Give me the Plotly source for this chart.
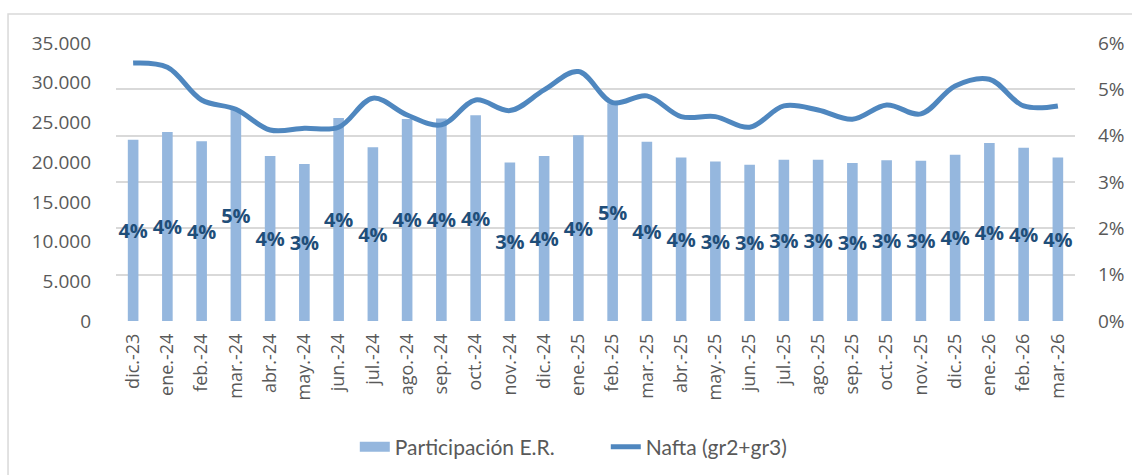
import plotly.graph_objects as go

# ------------------------------------------------------------
# Data
# ------------------------------------------------------------

meses = [
    "dic.-23", "ene.-24", "feb.-24", "mar.-24", "abr.-24", "may.-24",
    "jun.-24", "jul.-24", "ago.-24", "sep.-24", "oct.-24", "nov.-24",
    "dic.-24", "ene.-25", "feb.-25", "mar.-25", "abr.-25", "may.-25",
    "jun.-25", "jul.-25", "ago.-25", "sep.-25", "oct.-25", "nov.-25",
    "dic.-25", "ene.-26", "feb.-26", "mar.-26",
]

participacion_er = [
    0.0391, 0.0408, 0.0388, 0.0456, 0.0356, 0.0339,
    0.0438, 0.0375, 0.0436, 0.0437, 0.0444, 0.0342,
    0.0356, 0.0401, 0.0470, 0.0387, 0.0353, 0.0344,
    0.0337, 0.0348, 0.0348, 0.0341, 0.0347, 0.0346,
    0.0359, 0.0384, 0.0374, 0.0353,
]

nafta = [
    32470, 31950, 27830, 26660, 24050, 24270,
    24390, 28050, 25940, 24690, 27830, 26490,
    29090, 31400, 27490, 28340, 25730, 25730,
    24390, 27080, 26570, 25400, 27200, 26070,
    29600, 30440, 27080, 27080,
]

# ------------------------------------------------------------
# Figure
# ------------------------------------------------------------

GRID = "#D9D9D9"
TXT = "#595959"
BAR = "#95B7DE"
LINE = "#4F87BF"

fig = go.Figure()

fig.add_trace(go.Bar(
    x=meses,
    y=participacion_er,
    name="Participación E.R.",
    showlegend=False,
    marker=dict(color=BAR, line=dict(width=0)),
    width=0.31,
    texttemplate="%{y:.0%}",
    textposition="inside",
    insidetextanchor="middle",
    textangle=0,
    constraintext="none",
    textfont=dict(family="Open Sans", size=20, color="#1F4E79", weight="bold"),
    yaxis="y",
))

# legend entry for the bars (wide block like the original)
fig.add_trace(go.Scatter(
    x=[None],
    y=[None],
    name="Participación E.R.",
    mode="lines",
    line=dict(color=BAR, width=14),
    yaxis="y",
))

fig.add_trace(go.Scatter(
    x=meses,
    y=nafta,
    name="Nafta (gr2+gr3)",
    mode="lines",
    line=dict(color=LINE, width=5, shape="spline", smoothing=1),
    yaxis="y2",
))

fig.update_layout(
    width=1132,
    height=475,
    paper_bgcolor="white",
    plot_bgcolor="white",
    separators=",.",
    margin=dict(l=116, r=57, t=43, b=154, autoexpand=False),
    font=dict(family="Open Sans", size=19, color=TXT),
    showlegend=True,
    legend=dict(
        orientation="h",
        x=0.249,
        xanchor="left",
        xref="paper",
        y=0.059,
        yref="container",
        yanchor="middle",
        font=dict(family="Lato", size=21, color=TXT),
        entrywidth=206,
        entrywidthmode="pixels",
    ),
    xaxis=dict(
        type="category",
        tickangle=-90,
        showgrid=False,
        showline=False,
        ticks="",
        automargin=False,
        ticklabelstandoff=8,
        tickfont=dict(family="Open Sans", size=18, color=TXT),
    ),
    yaxis=dict(
        side="right",
        range=[0, 0.06],
        dtick=0.01,
        tickformat=".0%",
        showgrid=True,
        gridcolor=GRID,
        gridwidth=1.5,
        zeroline=False,
        showline=False,
        ticks="",
        automargin=False,
        ticklabelstandoff=22,
        tickfont=dict(family="Open Sans", size=19, color=TXT),
    ),
    yaxis2=dict(
        side="left",
        overlaying="y",
        range=[0, 35000],
        dtick=5000,
        tickformat=",d",
        showgrid=False,
        zeroline=False,
        showline=False,
        ticks="",
        automargin=False,
        ticklabelstandoff=24,
        tickfont=dict(family="Open Sans", size=19, color=TXT),
    ),
    shapes=[dict(
        type="rect",
        xref="paper",
        yref="paper",
        x0=-0.1126,
        x1=1.3,
        y0=-0.8,
        y1=1.104,
        line=dict(color=GRID, width=1.5),
        layer="below",
    )],
)

# page body has a default margin; remove it so the figure sits at (0, 0)
fig.write_html(
    "out.html",
    config={"displayModeBar": False},
    post_script="document.body.style.margin='0px';",
)
